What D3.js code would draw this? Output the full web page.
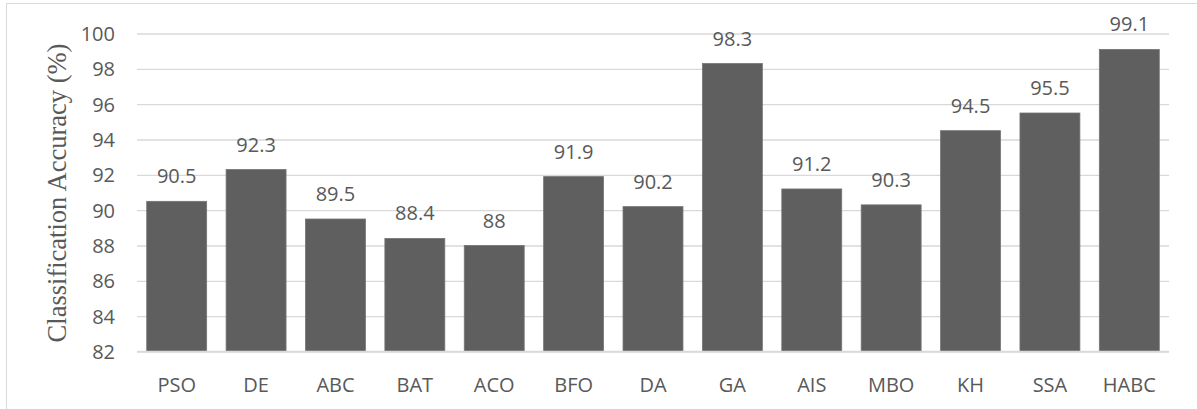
<!DOCTYPE html>
<html>
<head>
<meta charset="utf-8">
<script src="https://cdn.jsdelivr.net/npm/d3@7"></script>
<style>
  html, body { margin: 0; padding: 0; background: #ffffff; }
  svg { display: block; }
</style>
</head>
<body>
<svg id="chart" width="1197" height="409"></svg>
<script>
const categories = ["PSO", "DE", "ABC", "BAT", "ACO", "BFO", "DA", "GA", "AIS", "MBO", "KH", "SSA", "HABC"];
const accuracy = [90.5, 92.3, 89.5, 88.4, 88, 91.9, 90.2, 98.3, 91.2, 90.3, 94.5, 95.5, 99.1];
const yTicks = [82, 84, 86, 88, 90, 92, 94, 96, 98, 100];
const yTitle = "Classification Accuracy (%)";

const svg = d3.select("#chart");
const W = 1197, H = 409;
const plot = { left: 137, right: 1169, top: 33.5, bottom: 351.5 };
const textColor = "#595959";
const sansFont = "'Open Sans', 'Liberation Sans', sans-serif";

// outer frame (only top/left visible in the reference)
svg.append("rect")
  .attr("x", 6.5).attr("y", 3.5)
  .attr("width", W + 20).attr("height", H + 20)
  .attr("fill", "none").attr("stroke", "#d9d9d9").attr("stroke-width", 1);

const x = d3.scaleBand()
  .domain(categories)
  .range([plot.left, plot.right])
  .paddingInner(0.245)
  .paddingOuter(0.1225);

const y = d3.scaleLinear()
  .domain([82, 100])
  .range([plot.bottom, plot.top]);

// gridlines
const grid = svg.append("g")
  .attr("transform", `translate(${plot.left},0)`)
  .call(d3.axisLeft(y).tickValues(yTicks).tickSize(-(plot.right - plot.left)).tickFormat(""));
grid.select(".domain").remove();
grid.selectAll(".tick line").attr("stroke", "#d9d9d9").attr("stroke-width", 1.3);

// y tick labels
const yAxis = svg.append("g")
  .attr("transform", `translate(115,0)`)
  .call(d3.axisLeft(y).tickValues(yTicks).tickSize(0).tickPadding(0).tickFormat(d3.format("d")));
yAxis.select(".domain").remove();
yAxis.selectAll(".tick text")
  .attr("x", 0).attr("dy", null).attr("y", 7)
  .attr("text-anchor", "end")
  .attr("fill", textColor)
  .style("font-family", sansFont).style("font-size", "20px");

// bars
svg.append("g").selectAll("rect")
  .data(categories)
  .join("rect")
  .attr("x", d => x(d))
  .attr("width", x.bandwidth())
  .attr("y", (d, i) => y(accuracy[i]))
  .attr("height", (d, i) => y(82) - y(accuracy[i]))
  .attr("fill", "#5f5f5f")
  .attr("stroke", "#747474")
  .attr("stroke-width", 0.8);

// x baseline
svg.append("line")
  .attr("x1", plot.left).attr("x2", plot.right)
  .attr("y1", y(82)).attr("y2", y(82))
  .attr("stroke", "#d9d9d9").attr("stroke-width", 1.5);

// value labels
svg.append("g").selectAll("text")
  .data(categories)
  .join("text")
  .attr("x", d => x(d) + x.bandwidth() / 2)
  .attr("y", (d, i) => y(accuracy[i]) - 18)
  .attr("text-anchor", "middle")
  .attr("fill", textColor)
  .style("font-family", sansFont).style("font-size", "20px")
  .text((d, i) => accuracy[i]);

// category labels
const xAxis = svg.append("g")
  .attr("transform", `translate(0,${plot.bottom})`)
  .call(d3.axisBottom(x).tickSize(0).tickPadding(0));
xAxis.select(".domain").remove();
xAxis.selectAll(".tick text")
  .attr("y", 40).attr("dy", null)
  .attr("fill", textColor)
  .style("font-family", sansFont).style("font-size", "20px");

// y title
svg.append("text")
  .attr("transform", "translate(66,193) rotate(-90)")
  .attr("text-anchor", "middle")
  .attr("fill", textColor)
  .style("font-family", "'Liberation Serif', 'Times New Roman', serif")
  .style("font-size", "26.5px")
  .text(yTitle);
</script>
</body>
</html>
